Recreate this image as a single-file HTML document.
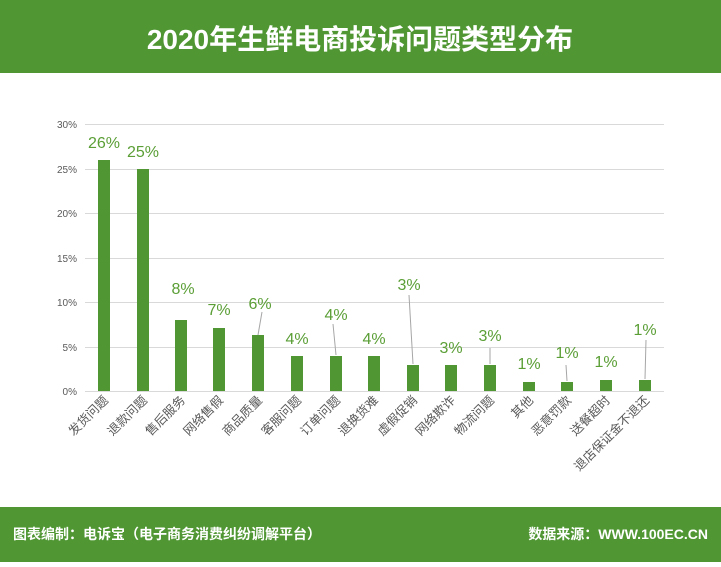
<!DOCTYPE html><html><head><meta charset="utf-8"><style>body{margin:0;width:721px;height:562px;overflow:hidden;background:#fff;font-family:"Liberation Sans","Noto Sans CJK SC",sans-serif}</style></head><body>
<svg width="721" height="562" xmlns="http://www.w3.org/2000/svg" font-family="Liberation Sans, Noto Sans CJK SC, sans-serif">
<rect x="0" y="0" width="721" height="73" fill="#509734"/>
<text x="360" y="49" text-anchor="middle" font-size="28" font-weight="bold" fill="#fff">2020年生鲜电商投诉问题类型分布</text>
<rect x="0" y="507" width="721" height="55" fill="#509734"/>
<text x="13" y="539" font-size="14" font-weight="bold" fill="#fff">图表编制：电诉宝（电子商务消费纠纷调解平台）</text>
<text x="708" y="539" text-anchor="end" font-size="14" font-weight="bold" fill="#fff">数据来源：WWW.100EC.CN</text>
<g stroke="#d9d9d9" stroke-width="1">
<line x1="85" x2="664" y1="124.5" y2="124.5"/><line x1="85" x2="664" y1="169.5" y2="169.5"/><line x1="85" x2="664" y1="213.5" y2="213.5"/><line x1="85" x2="664" y1="258.5" y2="258.5"/><line x1="85" x2="664" y1="302.5" y2="302.5"/><line x1="85" x2="664" y1="347.5" y2="347.5"/><line x1="85" x2="664" y1="391.5" y2="391.5"/></g>
<g font-size="10" fill="#595959" text-anchor="end">
<text x="77" y="128">30%</text><text x="77" y="173">25%</text><text x="77" y="217">20%</text><text x="77" y="262">15%</text><text x="77" y="306">10%</text><text x="77" y="351">5%</text><text x="77" y="395">0%</text></g>
<g fill="#509734">
<rect x="98" y="160" width="12" height="231"/><rect x="137" y="169" width="12" height="222"/><rect x="175" y="320" width="12" height="71"/><rect x="213" y="328" width="12" height="63"/><rect x="252" y="335" width="12" height="56"/><rect x="291" y="356" width="12" height="35"/><rect x="330" y="356" width="12" height="35"/><rect x="368" y="356" width="12" height="35"/><rect x="407" y="365" width="12" height="26"/><rect x="445" y="365" width="12" height="26"/><rect x="484" y="365" width="12" height="26"/><rect x="523" y="382" width="12" height="9"/><rect x="561" y="382" width="12" height="9"/><rect x="600" y="380" width="12" height="11"/><rect x="639" y="380" width="12" height="11"/></g>
<g stroke="#a6a6a6" stroke-width="1">
<line x1="258" y1="335" x2="262" y2="312"/><line x1="333" y1="324" x2="336" y2="355"/><line x1="409" y1="295" x2="413" y2="364"/><line x1="490" y1="348" x2="490" y2="364"/><line x1="566" y1="365" x2="567" y2="381"/><line x1="646" y1="340" x2="645" y2="379"/></g>
<g font-size="16" fill="#5a9e35" text-anchor="middle">
<text x="104" y="148">26%</text><text x="143" y="157">25%</text><text x="183" y="294">8%</text><text x="219" y="315">7%</text><text x="260" y="309">6%</text><text x="297" y="344">4%</text><text x="336" y="320">4%</text><text x="374" y="344">4%</text><text x="409" y="290">3%</text><text x="451" y="353">3%</text><text x="490" y="341">3%</text><text x="529" y="369">1%</text><text x="567" y="358">1%</text><text x="606" y="367">1%</text><text x="645" y="335">1%</text></g>
<g font-size="12.5" fill="#595959" text-anchor="end">
<text transform="translate(109,401) rotate(-45)">发货问题</text>
<text transform="translate(148,401) rotate(-45)">退款问题</text>
<text transform="translate(186,401) rotate(-45)">售后服务</text>
<text transform="translate(224,401) rotate(-45)">网络售假</text>
<text transform="translate(263,401) rotate(-45)">商品质量</text>
<text transform="translate(302,401) rotate(-45)">客服问题</text>
<text transform="translate(341,401) rotate(-45)">订单问题</text>
<text transform="translate(379,401) rotate(-45)">退换货难</text>
<text transform="translate(418,401) rotate(-45)">虚假促销</text>
<text transform="translate(456,401) rotate(-45)">网络欺诈</text>
<text transform="translate(495,401) rotate(-45)">物流问题</text>
<text transform="translate(534,401) rotate(-45)">其他</text>
<text transform="translate(572,401) rotate(-45)">恶意罚款</text>
<text transform="translate(611,401) rotate(-45)">送餐超时</text>
<text transform="translate(650,401) rotate(-45)">退店保证金不退还</text></g>
</svg></body></html>
